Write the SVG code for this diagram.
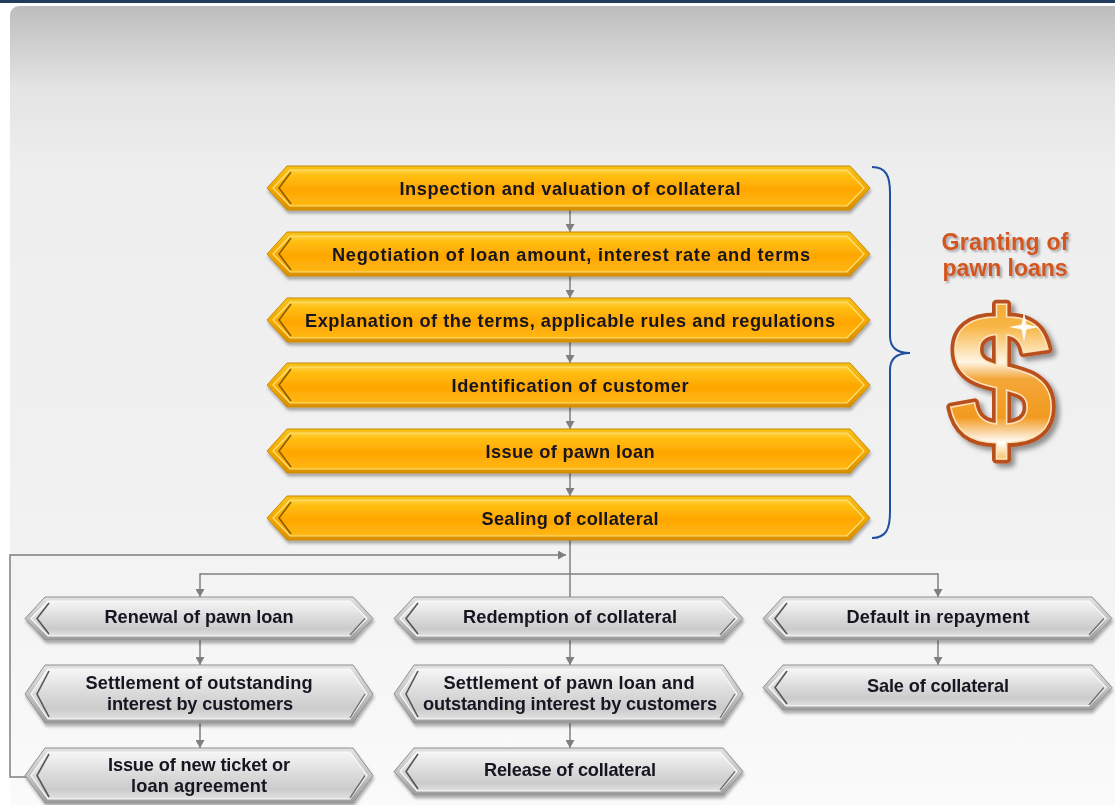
<svg xmlns="http://www.w3.org/2000/svg" width="1115" height="805" viewBox="0 0 1115 805">
<defs>
<linearGradient id="bg" x1="0" y1="0" x2="0" y2="1">
<stop offset="0" stop-color="#bdbdbd"/>
<stop offset="0.1" stop-color="#e4e4e4"/>
<stop offset="0.2" stop-color="#eeeeee"/>
<stop offset="0.6" stop-color="#f1f1f1"/>
<stop offset="1" stop-color="#fbfbfb"/>
</linearGradient>
<linearGradient id="oOut" x1="0" y1="0" x2="0" y2="1">
<stop offset="0" stop-color="#f7c21a"/>
<stop offset="0.5" stop-color="#f3a900"/>
<stop offset="1" stop-color="#d98f00"/>
</linearGradient>
<linearGradient id="oIn" x1="0" y1="0" x2="0" y2="1">
<stop offset="0" stop-color="#ffd243"/>
<stop offset="0.15" stop-color="#ffbf12"/>
<stop offset="0.55" stop-color="#ffa600"/>
<stop offset="1" stop-color="#ffb815"/>
</linearGradient>
<linearGradient id="gOut" x1="0" y1="0" x2="0" y2="1">
<stop offset="0" stop-color="#e2e2e2"/>
<stop offset="0.5" stop-color="#c4c4c4"/>
<stop offset="1" stop-color="#9c9c9c"/>
</linearGradient>
<linearGradient id="gIn" x1="0" y1="0" x2="0" y2="1">
<stop offset="0" stop-color="#f6f6f6"/>
<stop offset="0.45" stop-color="#dcdcdc"/>
<stop offset="0.8" stop-color="#cbcbcb"/>
<stop offset="1" stop-color="#e2e2e2"/>
</linearGradient>
<linearGradient id="dollarGrad" x1="0" y1="0" x2="0" y2="1">
<stop offset="0" stop-color="#f0a020"/>
<stop offset="0.25" stop-color="#f7b544"/>
<stop offset="0.42" stop-color="#fff6e6"/>
<stop offset="0.5" stop-color="#f3a63a"/>
<stop offset="0.68" stop-color="#f29a1f"/>
<stop offset="0.8" stop-color="#ffffff"/>
<stop offset="0.9" stop-color="#f6b040"/>
<stop offset="1" stop-color="#e98a12"/>
</linearGradient>
<filter id="sh" x="-5%" y="-20%" width="110%" height="160%">
<feDropShadow dx="1" dy="3" stdDeviation="1.5" flood-color="#000" flood-opacity="0.3"/>
</filter>
<filter id="tsh" x="-10%" y="-20%" width="120%" height="160%">
<feDropShadow dx="2" dy="2" stdDeviation="1" flood-color="#777" flood-opacity="0.6"/>
</filter>
<filter id="dsh" x="-20%" y="-20%" width="150%" height="150%">
<feDropShadow dx="4" dy="4" stdDeviation="2.5" flood-color="#000" flood-opacity="0.4"/>
</filter>
<marker id="arr" markerUnits="userSpaceOnUse" markerWidth="9" markerHeight="9" refX="8" refY="4.5" orient="auto">
<path d="M0,0 L8,4.5 L0,9 z" fill="#7f7f7f"/>
</marker>
</defs>
<style>
.oo{fill:url(#oOut);stroke:#c98800;stroke-width:1}
.oi{fill:url(#oIn);stroke:#ffe27a;stroke-width:1.2}
.oc{fill:none;stroke:#8a5c00;stroke-width:1.6}
.go{fill:url(#gOut);stroke:#8f8f8f;stroke-width:1}
.gi{fill:url(#gIn);stroke:#fafafa;stroke-width:1.2}
.gc{fill:none;stroke:#555;stroke-width:1.6}
.gr{fill:none;stroke:#6f6f6f;stroke-width:1.4}
.t{font-family:"Liberation Sans",Arial,sans-serif;font-weight:bold;font-size:18.2px;fill:#151520;text-anchor:middle}
.c{fill:none;stroke:#7f7f7f;stroke-width:1.5}
.title{font-family:"Liberation Sans",Arial,sans-serif;font-weight:bold;font-size:23px;fill:#d4561e;text-anchor:middle}
</style>
<rect x="0" y="0" width="1115" height="805" fill="#ffffff"/>
<rect x="0" y="0" width="1115" height="3" fill="#233b5c"/>
<rect x="10" y="6" width="1120" height="820" rx="9" fill="url(#bg)"/>

<g id="connectors">
<line class="c" x1="570" y1="210" x2="570" y2="232" marker-end="url(#arr)"/>
<line class="c" x1="570" y1="276" x2="570" y2="298" marker-end="url(#arr)"/>
<line class="c" x1="570" y1="342" x2="570" y2="363" marker-end="url(#arr)"/>
<line class="c" x1="570" y1="407" x2="570" y2="429" marker-end="url(#arr)"/>
<line class="c" x1="570" y1="473" x2="570" y2="496" marker-end="url(#arr)"/>
<line class="c" x1="570" y1="540" x2="570" y2="597"/>
<line class="c" x1="200" y1="574" x2="938" y2="574"/>
<line class="c" x1="200" y1="573.3" x2="200" y2="597" marker-end="url(#arr)"/>
<line class="c" x1="938" y1="573.3" x2="938" y2="597" marker-end="url(#arr)"/>
<line class="c" x1="200" y1="640" x2="200" y2="665" marker-end="url(#arr)"/>
<line class="c" x1="200" y1="723" x2="200" y2="748" marker-end="url(#arr)"/>
<line class="c" x1="570" y1="640" x2="570" y2="665" marker-end="url(#arr)"/>
<line class="c" x1="570" y1="723" x2="570" y2="748" marker-end="url(#arr)"/>
<line class="c" x1="938" y1="640" x2="938" y2="665" marker-end="url(#arr)"/>
<polyline class="c" points="26,777 10,777 10,555 566,555" marker-end="url(#arr)"/>
</g>

<g id="brace">
<path d="M872,167 C886,167 890,176 890,193 L890,336 C890,348 898,353 910,353 C898,353 890,358 890,370 L890,512 C890,529 886,538 872,538" fill="none" stroke="#1f4fa0" stroke-width="2"/>
</g>

<g id="o1" filter="url(#sh)">
<polygon class="oo" points="267,188 287,166 850,166 870,188 850,210 287,210"/>
<polygon class="oi" points="273,188 290,170 847,170 864,188 847,206 290,206"/>
<polyline class="oc" points="291,172 279,188 291,204"/>
<text class="t" x="570" y="194.5" textLength="341">Inspection and valuation  of collateral</text>
</g>
<g id="o2" filter="url(#sh)">
<polygon class="oo" points="267,254 287,232 850,232 870,254 850,276 287,276"/>
<polygon class="oi" points="273,254 290,236 847,236 864,254 847,272 290,272"/>
<polyline class="oc" points="291,238 279,254 291,270"/>
<text class="t" x="571" y="260.5" textLength="478">Negotiation of loan amount, interest rate and terms</text>
</g>
<g id="o3" filter="url(#sh)">
<polygon class="oo" points="267,320 287,298 850,298 870,320 850,342 287,342"/>
<polygon class="oi" points="273,320 290,302 847,302 864,320 847,338 290,338"/>
<polyline class="oc" points="291,304 279,320 291,336"/>
<text class="t" x="570" y="326.5" textLength="530">Explanation of the terms, applicable  rules and regulations</text>
</g>
<g id="o4" filter="url(#sh)">
<polygon class="oo" points="267,385 287,363 850,363 870,385 850,407 287,407"/>
<polygon class="oi" points="273,385 290,367 847,367 864,385 847,403 290,403"/>
<polyline class="oc" points="291,369 279,385 291,401"/>
<text class="t" x="570" y="391.5" textLength="237">Identification of customer</text>
</g>
<g id="o5" filter="url(#sh)">
<polygon class="oo" points="267,451 287,429 850,429 870,451 850,473 287,473"/>
<polygon class="oi" points="273,451 290,433 847,433 864,451 847,469 290,469"/>
<polyline class="oc" points="291,435 279,451 291,467"/>
<text class="t" x="570" y="457.5" textLength="169">Issue of pawn loan</text>
</g>
<g id="o6" filter="url(#sh)">
<polygon class="oo" points="267,518 287,496 850,496 870,518 850,540 287,540"/>
<polygon class="oi" points="273,518 290,500 847,500 864,518 847,536 290,536"/>
<polyline class="oc" points="291,502 279,518 291,534"/>
<text class="t" x="570" y="524.5" textLength="177">Sealing of collateral</text>
</g>

<g id="g11" filter="url(#sh)">
<polygon class="go" points="25,618.5 45,597 353,597 373,618.5 353,640 45,640"/>
<polygon class="gi" points="31,618.5 48,601 350,601 367,618.5 350,636 48,636"/>
<polyline class="gc" points="49,603 37,618.5 49,634"/>
<polyline class="gr" points="365,618.5 350,635"/>
<text class="t" x="199" y="623" textLength="189">Renewal of pawn loan</text>
</g>
<g id="g12" filter="url(#sh)">
<polygon class="go" points="25,694 45,665 353,665 373,694 353,723 45,723"/>
<polygon class="gi" points="31,694 48,669 350,669 367,694 350,719 48,719"/>
<polyline class="gc" points="49,671 37,694 49,717"/>
<polyline class="gr" points="365,694 350,718"/>
<text class="t" x="199" y="689" textLength="227">Settlement of outstanding</text>
<text class="t" x="200" y="710" textLength="186">interest by customers</text>
</g>
<g id="g13" filter="url(#sh)">
<polygon class="go" points="25,775.5 45,748 353,748 373,775.5 353,803 45,803"/>
<polygon class="gi" points="31,775.5 48,752 350,752 367,775.5 350,799 48,799"/>
<polyline class="gc" points="49,754 37,775.5 49,797"/>
<polyline class="gr" points="365,775.5 350,798"/>
<text class="t" x="199" y="771" textLength="182">Issue of new ticket or</text>
<text class="t" x="199" y="792" textLength="136">loan agreement</text>
</g>
<g id="g21" filter="url(#sh)">
<polygon class="go" points="394,618.5 414,597 723,597 743,618.5 723,640 414,640"/>
<polygon class="gi" points="400,618.5 417,601 720,601 737,618.5 720,636 417,636"/>
<polyline class="gc" points="418,603 406,618.5 418,634"/>
<polyline class="gr" points="735,618.5 720,635"/>
<text class="t" x="570" y="623" textLength="214">Redemption of collateral</text>
</g>
<g id="g22" filter="url(#sh)">
<polygon class="go" points="394,694 414,665 723,665 743,694 723,723 414,723"/>
<polygon class="gi" points="400,694 417,669 720,669 737,694 720,719 417,719"/>
<polyline class="gc" points="418,671 406,694 418,717"/>
<polyline class="gr" points="735,694 720,718"/>
<text class="t" x="569" y="689" textLength="251">Settlement of pawn loan and</text>
<text class="t" x="570" y="710" textLength="294">outstanding interest by customers</text>
</g>
<g id="g23" filter="url(#sh)">
<polygon class="go" points="394,771.5 414,748 723,748 743,771.5 723,795 414,795"/>
<polygon class="gi" points="400,771.5 417,752 720,752 737,771.5 720,791 417,791"/>
<polyline class="gc" points="418,754 406,771.5 418,789"/>
<polyline class="gr" points="735,771.5 720,790"/>
<text class="t" x="570" y="776" textLength="172">Release of collateral</text>
</g>
<g id="g31" filter="url(#sh)">
<polygon class="go" points="763,618.5 783,597 1092,597 1112,618.5 1092,640 783,640"/>
<polygon class="gi" points="769,618.5 786,601 1089,601 1106,618.5 1089,636 786,636"/>
<polyline class="gc" points="787,603 775,618.5 787,634"/>
<polyline class="gr" points="1104,618.5 1089,635"/>
<text class="t" x="938" y="623" textLength="183">Default in repayment</text>
</g>
<g id="g32" filter="url(#sh)">
<polygon class="go" points="763,687.5 783,665 1092,665 1112,687.5 1092,710 783,710"/>
<polygon class="gi" points="769,687.5 786,669 1089,669 1106,687.5 1089,706 786,706"/>
<polyline class="gc" points="787,671 775,687.5 787,704"/>
<polyline class="gr" points="1104,687.5 1089,705"/>
<text class="t" x="938" y="692" textLength="142">Sale of collateral</text>
</g>

<g id="title" filter="url(#tsh)">
<text class="title" x="1005" y="250" textLength="127">Granting of</text>
<text class="title" x="1005" y="276" textLength="125">pawn loans</text>
</g>

<g id="dollar" filter="url(#dsh)">
<text x="1001" y="445" font-family="Liberation Sans,Arial,sans-serif" font-weight="bold" font-size="190" text-anchor="middle" fill="#b9501a" stroke="#b9501a" stroke-width="9" stroke-linejoin="round">$</text>
<text x="1001" y="445" font-family="Liberation Sans,Arial,sans-serif" font-weight="bold" font-size="190" text-anchor="middle" fill="url(#dollarGrad)" stroke="#ffe3b8" stroke-width="1.5">$</text>
<polygon points="1024,312 1026.5,324.5 1039,327 1026.5,329.5 1024,342 1021.5,329.5 1009,327 1021.5,324.5" fill="#ffffff" opacity="0.95"/>
</g>
</svg>
